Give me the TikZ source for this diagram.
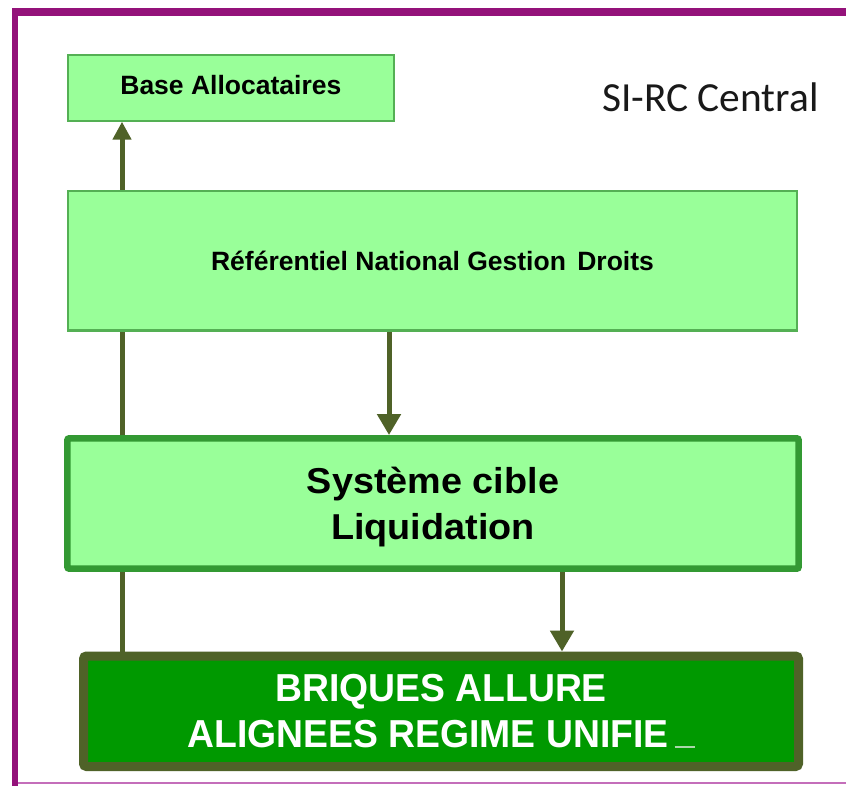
\documentclass[tikz,border=0pt]{standalone}
\usepackage{fontspec}
\setmainfont{Liberation Sans}
\newfontfamily\sysfont[FakeStretch=1.05]{Liberation Sans}
\newfontfamily\brifont[FakeStretch=0.957]{Liberation Sans}
\newfontfamily\calfont{Carlito}
\usetikzlibrary{arrows.meta,backgrounds}
\definecolor{framecol}{RGB}{148,18,122}
\definecolor{framelite}{RGB}{196,110,186}
\definecolor{lgreen}{RGB}{153,255,153}
\definecolor{thinborder}{RGB}{84,176,84}
\definecolor{sysborder}{RGB}{51,153,51}
\definecolor{brifill}{RGB}{0,153,0}
\definecolor{olivec}{RGB}{79,98,40}
\definecolor{uscol}{RGB}{170,215,170}
\begin{document}
\begin{tikzpicture}[x=1pt,y=-1pt,
  thinbox/.style={draw=thinborder, fill=lgreen, line width=2pt, inner sep=0pt,
    font=\bfseries\fontsize{26.5}{30}\selectfont},
  sysbox/.style={draw=sysborder, fill=lgreen, line width=6.5pt, rounded corners=2pt,
    inner sep=0pt, align=center, font=\sysfont\bfseries\fontsize{36}{46}\selectfont},
  bribox/.style={draw=olivec, fill=brifill, line width=9pt, rounded corners=3pt,
    inner sep=0pt, align=center, text=white,
    font=\brifont\bfseries\fontsize{39}{46.5}\selectfont},
  conn/.style={draw=olivec, line width=5pt},
  bigtip/.style={-{Triangle[width=23pt,length=21pt]}},
  smalltip/.style={-{Triangle[width=18pt,length=18pt]}}]
\useasboundingbox (0,0) rectangle (846,786);

\node[thinbox, minimum width=326.3pt, minimum height=65.7pt, text height=19pt, text depth=4.7pt]
  (base) at (230.85,87.85) {Base Allocataires};
\node[thinbox, minimum width=729pt, minimum height=139pt, text height=19pt, text depth=0pt]
  (rngd) at (432.5,261) {Référentiel National Gestion\hspace{4pt} Droits};
\node[sysbox, minimum width=731.4pt, minimum height=130.4pt]
  (sys) at (433,503.5) {\rule{0pt}{33pt}Système cible\\Liquidation};
\node[bribox, minimum width=715pt, minimum height=110.5pt]
  (bri) at (441,711.25) {BRIQUES ALLURE\\ALIGNEES REGIME UNIFIE\hspace{6pt}\textcolor{uscol}{\rule{20pt}{1.5pt}}};
\node[anchor=base west, inner sep=0pt, font=\calfont\fontsize{41.4}{48}\selectfont, text=black!90]
  (title) at (602,112) {SI-RC Central};

\coordinate (lx) at (122,0);
\coordinate (ax) at (389,0);
\coordinate (bx) at (562,0);

\begin{pgfonlayer}{background}
  \fill[white] (0,0) rectangle (846,786);
  \fill[framecol] (11.7,8.3) rectangle (846,15.7);
  \fill[framecol] (11.7,8.3) rectangle (18.3,786);
  \fill[framelite] (18.3,782.3) rectangle (846,784.3);
  \draw[conn, smalltip] (bri.north -| lx) -- (base.south -| lx);
  \draw[conn, bigtip] (rngd.south -| ax) -- (sys.north -| ax);
  \draw[conn, bigtip] (sys.south -| bx) -- (bri.north -| bx);
\end{pgfonlayer}
\end{tikzpicture}
\end{document}
